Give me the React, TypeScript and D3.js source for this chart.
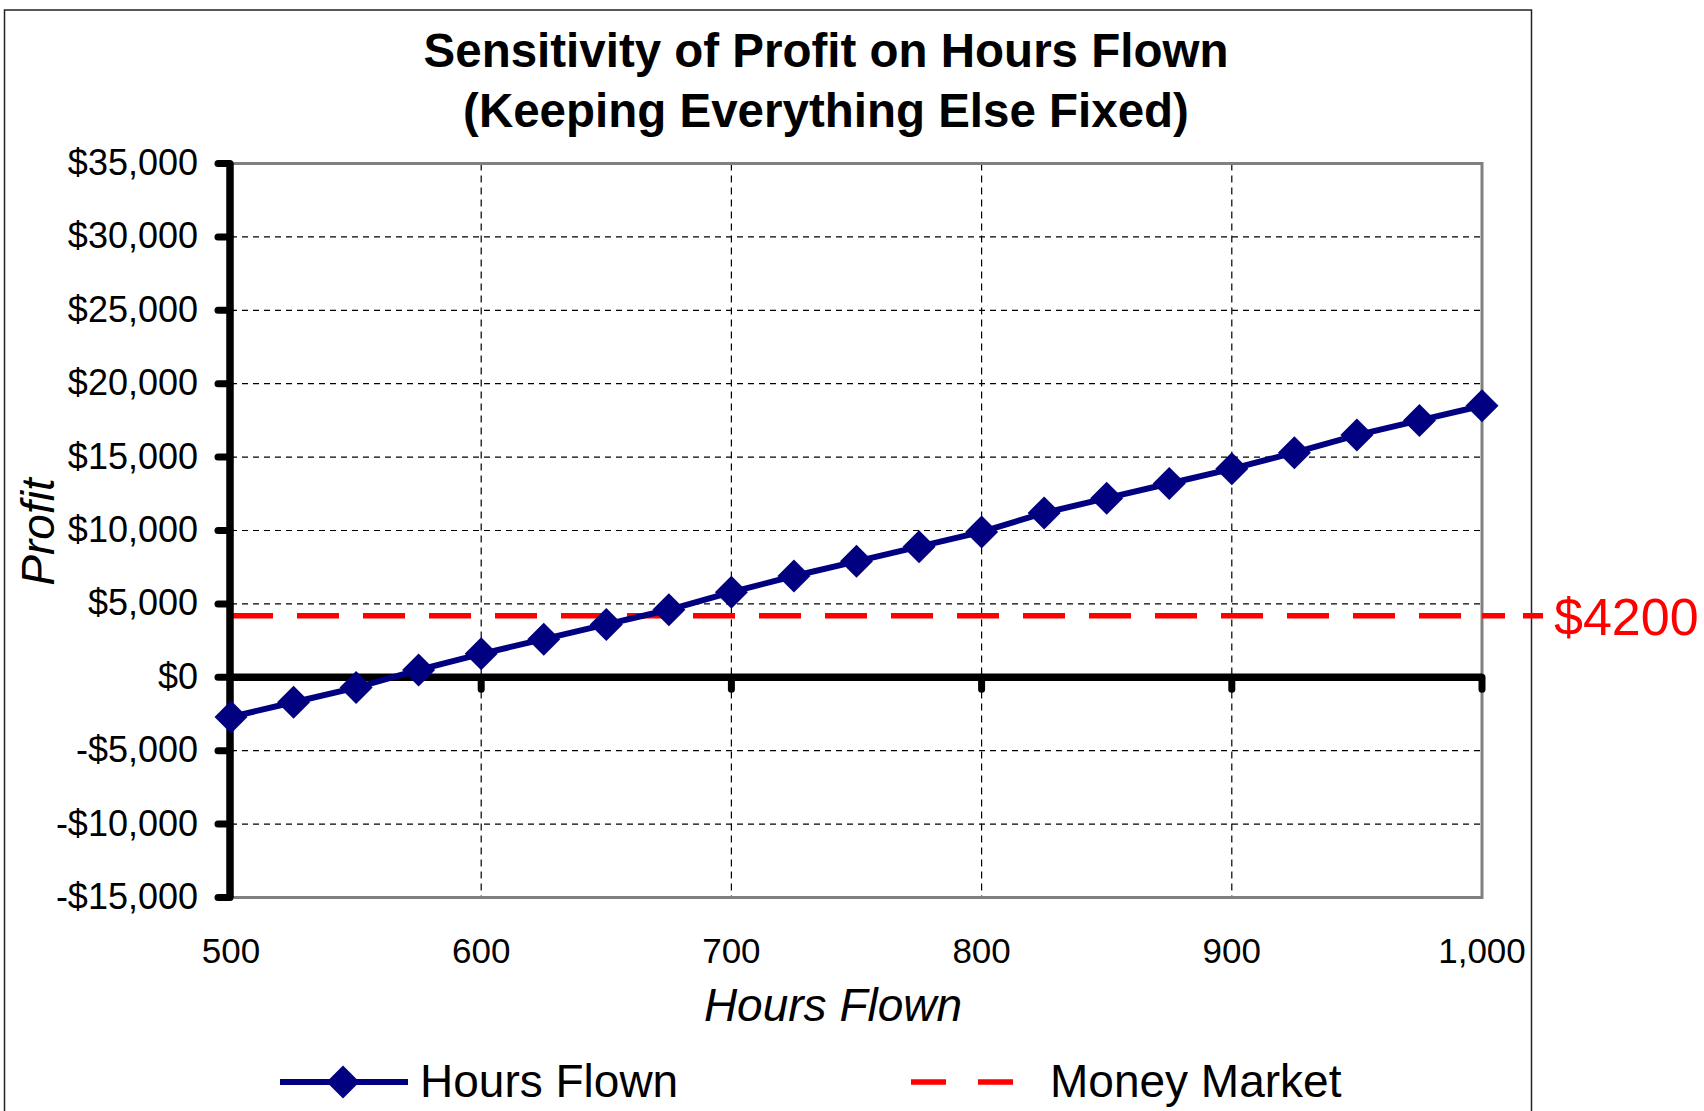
import React from "react";
import * as d3 from "d3";

const hours = [500, 525, 550, 575, 600, 625, 650, 675, 700, 725, 750, 775, 800, 825, 850, 875, 900, 925, 950, 975, 1000];
const profit = [-2700, -1700, -700, 500, 1600, 2600, 3600, 4600, 5800, 6900, 7900, 8900, 9900, 11200, 12200, 13200, 14200, 15300, 16500, 17500, 18500];
const moneyMarket = 4200;
const yTicks = [-15000, -10000, -5000, 0, 5000, 10000, 15000, 20000, 25000, 30000, 35000];
const xTicks = [500, 600, 700, 800, 900, 1000];
const titleLines = ["Sensitivity of Profit on Hours Flown", "(Keeping Everything Else Fixed)"];
const seriesNames = ["Hours Flown", "Money Market"];

const FONT = "'Liberation Sans', Arial, sans-serif";
const NAVY = "#000080";
const RED = "#ff0000";

export default function App() {
  const x = d3.scaleLinear().domain([500, 1000]).range([231, 1482]);
  const y = d3.scaleLinear().domain([-15000, 35000]).range([897.5, 163.5]);
  const [x0, x1] = x.range();
  const [yb, yt] = y.range();
  const comma = d3.format(",");
  const fmtY = (v: number) => (v < 0 ? "-$" + comma(-v) : "$" + comma(v));

  const pts = hours.map((h, i) => [x(h), y(profit[i])] as [number, number]);
  const line = d3.line();
  const diamond = (cx: number, cy: number, r: number) =>
    `M${cx},${cy - r}L${cx + r},${cy}L${cx},${cy + r}L${cx - r},${cy}Z`;
  const ym = y(moneyMarket);

  return (
    <svg width={1704} height={1111} style={{ position: "absolute", left: 0, top: 0, background: "#fff" }} fontFamily={FONT}>
      <rect x={0} y={0} width={1704} height={1111} fill="#fff" />
      {/* outer chart border */}
      <rect x={4.5} y={10} width={1527} height={1120} fill="none" stroke="#222" strokeWidth={1.5} />

      {/* title */}
      {titleLines.map((t, i) => (
        <text key={i} x={826} y={67 + i * 60} textAnchor="middle" fontSize={47.5} fontWeight="bold" fill="#000">
          {t}
        </text>
      ))}

      {/* gridlines */}
      {yTicks.filter((v) => v !== 0 && v !== -15000 && v !== 35000).map((v) => (
        <line key={"gy" + v} x1={x0} x2={x1} y1={y(v)} y2={y(v)} stroke="#000" strokeWidth={1.2} strokeDasharray="6 5" />
      ))}
      {xTicks.filter((v) => v !== 500 && v !== 1000).map((v) => (
        <line key={"gx" + v} x1={x(v)} x2={x(v)} y1={yt} y2={yb} stroke="#000" strokeWidth={1.2} strokeDasharray="7 5" />
      ))}

      {/* plot border */}
      <path d={`M${x0},${yt}H${x1}V${yb}H${x0}`} fill="none" stroke="#808080" strokeWidth={3} />

      {/* money market line */}
      <line x1={x0} x2={x1} y1={ym} y2={ym} stroke={RED} strokeWidth={5.5} strokeDasharray="42 24" />
      <line x1={x1} x2={1543} y1={ym} y2={ym} stroke={RED} strokeWidth={5.5} strokeDasharray="23 18 20 100" />
      <text x={1554} y={ym + 19} fontSize={52} fill={RED}>${moneyMarket}</text>

      {/* y axis */}
      <line x1={230} x2={230} y1={yt} y2={yb} stroke="#000" strokeWidth={7.5} />
      {yTicks.map((v) => (
        <g key={"ty" + v}>
          <line x1={218} x2={230} y1={y(v)} y2={y(v)} stroke="#000" strokeWidth={7} strokeLinecap="round" />
          <text x={198} y={y(v) + 11.5} textAnchor="end" fontSize={36} fill="#000">{fmtY(v)}</text>
        </g>
      ))}
      {/* zero axis */}
      <line x1={230} x2={x1} y1={y(0)} y2={y(0)} stroke="#000" strokeWidth={7.5} />
      {xTicks.filter((v) => v !== 500).map((v) => (
        <line key={"tx" + v} x1={x(v)} x2={x(v)} y1={y(0)} y2={y(0) + 12} stroke="#000" strokeWidth={7} strokeLinecap="round" />
      ))}
      {xTicks.map((v) => (
        <text key={"lx" + v} x={x(v)} y={963} textAnchor="middle" fontSize={35} fill="#000">{comma(v)}</text>
      ))}

      {/* axis titles */}
      <text x={833} y={1021} textAnchor="middle" fontSize={46} fontStyle="italic" fill="#000">Hours Flown</text>
      <text transform="translate(54,532) rotate(-90)" textAnchor="middle" fontSize={46} fontStyle="italic" fill="#000">Profit</text>

      {/* series */}
      <path d={line(pts) || ""} fill="none" stroke={NAVY} strokeWidth={6} />
      {pts.map(([px, py], i) => (
        <path key={"m" + i} d={diamond(px, py, 16.5)} fill={NAVY} />
      ))}

      {/* legend */}
      <line x1={280} x2={408} y1={1082} y2={1082} stroke={NAVY} strokeWidth={6} />
      <path d={diamond(343, 1082, 16.5)} fill={NAVY} />
      <text x={420} y={1097} fontSize={46} fill="#000">{seriesNames[0]}</text>
      <line x1={911} x2={1016} y1={1082} y2={1082} stroke={RED} strokeWidth={5.5} strokeDasharray="35 32" />
      <text x={1050} y={1097} fontSize={46} fill="#000">{seriesNames[1]}</text>
    </svg>
  );
}
